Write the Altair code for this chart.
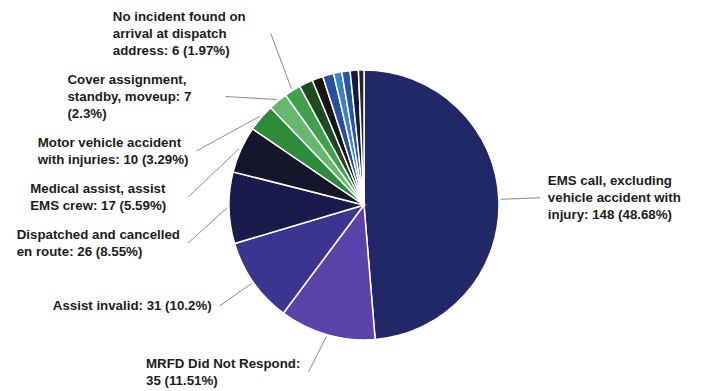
import math
import altair as alt
import pandas as pd

# ---------------- data ----------------
categories = [
    "EMS call, excluding vehicle accident with injury",
    "MRFD Did Not Respond",
    "Assist invalid",
    "Dispatched and cancelled en route",
    "Medical assist, assist EMS crew",
    "Motor vehicle accident with injuries",
    "Cover assignment, standby, moveup",
    "No incident found on arrival at dispatch address",
    "Other 1", "Other 2", "Other 3", "Other 4", "Other 5", "Other 6", "Other 7",
]
counts = [148, 35, 31, 26, 17, 10, 7, 6, 5, 4, 4, 3, 3, 3, 2]
label_templates = [
    "EMS call, excluding\nvehicle accident with\ninjury: {n} ({p}%)",
    "MRFD Did Not Respond:\n{n} ({p}%)",
    "Assist invalid: {n} ({p}%)",
    "Dispatched and cancelled\nen route: {n} ({p}%)",
    "Medical assist, assist\nEMS crew: {n} ({p}%)",
    "Motor vehicle accident\nwith injuries: {n} ({p}%)",
    "Cover assignment,\nstandby, moveup: {n}\n({p}%)",
    "No incident found on\narrival at dispatch\naddress: {n} ({p}%)",
    "", "", "", "", "", "", "",
]
palette = [
    "#212868", "#5a44aa", "#3b3590", "#1b1a4c", "#15152c",
    "#2c8c3a", "#66b86e", "#42a04c", "#1e4a24", "#161616",
    "#23509f", "#3d80cc", "#2753a8", "#141a3a", "#262626",
]

# ---------------- layout constants ----------------
W, H = 706, 391
PAD_L, PAD_T = 22, 19
CX = PAD_L + (W - PAD_L) / 2
CY = PAD_T + (H - PAD_T) / 2
R = 135
R_EDGE = 137
R_CONN = 176
FS = 13.3
LH = 17
GAP = 12
WRAP_MIN = 150
TEXT_GAP = 8

# Arial/Helvetica Bold advance widths (1/1000 em)
CW = {
    'a': 556, 'b': 611, 'c': 556, 'd': 611, 'e': 556, 'f': 333, 'g': 611, 'h': 611,
    'i': 278, 'j': 278, 'k': 556, 'l': 278, 'm': 889, 'n': 611, 'o': 611, 'p': 611,
    'q': 611, 'r': 389, 's': 556, 't': 333, 'u': 611, 'v': 556, 'w': 778, 'x': 556,
    'y': 556, 'z': 500,
    'A': 722, 'B': 722, 'C': 722, 'D': 722, 'E': 667, 'F': 611, 'G': 778, 'H': 722,
    'I': 278, 'J': 556, 'K': 722, 'L': 611, 'M': 833, 'N': 722, 'O': 778, 'P': 667,
    'Q': 778, 'R': 722, 'S': 667, 'T': 611, 'U': 722, 'V': 667, 'W': 944, 'X': 667,
    'Y': 667, 'Z': 611,
    ' ': 278, ',': 278, '.': 278, ':': 333, '(': 333, ')': 333, '%': 889, '-': 333,
}


def text_w(s):
    return sum(CW.get(ch, 556 if ch.isdigit() else 600) for ch in s) * FS / 1000.0


total = sum(counts)
pie_df = pd.DataFrame({"category": categories, "count": counts, "idx": list(range(len(counts)))})

# label geometry derived from the data
items = []
cum = 0
for i, (cat, n, tpl) in enumerate(zip(categories, counts, label_templates)):
    mid = (cum + n / 2) / total * 2 * math.pi
    cum += n
    if not tpl:
        continue
    p = round(100 * n / total, 2)
    text = tpl.format(n=n, p=f"{p:g}")
    lines = text.split("\n")
    items.append({
        "label": text, "mid": mid, "lines": lines,
        "h": len(lines) * LH,
        "ny": CY - R_CONN * math.cos(mid),
        "side": "left" if math.sin(mid) < 0 else "right",
    })


def distribute(group, top, bottom):
    group = sorted(group, key=lambda it: it["ny"])
    blocks = [[it] for it in group]

    def layout(block):
        offs, o = [], 0.0
        for k, it in enumerate(block):
            if k > 0:
                o += block[k - 1]["h"] / 2 + GAP + it["h"] / 2
            offs.append(o)
        start = sum(it["ny"] - off for it, off in zip(block, offs)) / len(block)
        if start - block[0]["h"] / 2 < top:
            start = top + block[0]["h"] / 2
        last_bottom = start + offs[-1] + block[-1]["h"] / 2
        if last_bottom > bottom:
            start -= last_bottom - bottom
        return [start + off for off in offs]

    while True:
        pos = [layout(b) for b in blocks]
        merged = False
        for i in range(len(blocks) - 1):
            b_bottom = pos[i][-1] + blocks[i][-1]["h"] / 2
            n_top = pos[i + 1][0] - blocks[i + 1][0]["h"] / 2
            if b_bottom + GAP > n_top:
                blocks[i] = blocks[i] + blocks.pop(i + 1)
                merged = True
                break
        if not merged:
            break
    for b, ps in zip(blocks, pos):
        for it, y in zip(b, ps):
            it["y"] = y


distribute([it for it in items if it["side"] == "left"], 8, H - 2)
distribute([it for it in items if it["side"] == "right"], 8, H - 2)

rows = []
for it in items:
    y = it["y"]
    dy = y - CY
    circ = math.sqrt(max(R_CONN ** 2 - dy ** 2, 0))
    nat_x = CX + R_CONN * math.sin(it["mid"])
    box = max(text_w(l) for l in it["lines"])
    if len(it["lines"]) > 1:
        box = max(box, WRAP_MIN)
    if it["side"] == "left":
        cxp = min(nat_x, CX - circ)
        tx = cxp - TEXT_GAP - box
    else:
        cxp = max(nat_x, CX + circ)
        tx = cxp + TEXT_GAP
    rows.append({
        "label": it["label"], "tx": tx,
        # first line sits at the anchor; shift so the block is centred
        "ty": y - (len(it["lines"]) - 1) * LH / 2,
        "x1": cxp, "y1": y,
        "x2": CX + R_EDGE * math.sin(it["mid"]),
        "y2": CY - R_EDGE * math.cos(it["mid"]),
    })
lab_df = pd.DataFrame(rows)

xs = alt.Scale(domain=[PAD_L, W], nice=False, zero=False)
ys = alt.Scale(domain=[PAD_T, H], nice=False, zero=False, reverse=True)

pie = alt.Chart(pie_df).mark_arc(outerRadius=R, stroke="white", strokeWidth=1.5).encode(
    theta=alt.Theta("count:Q", stack=True),
    color=alt.Color("category:N", scale=alt.Scale(domain=categories, range=palette), legend=None),
    order=alt.Order("idx:Q", sort="ascending"),
)

connectors = alt.Chart(lab_df).mark_rule(color="#8a8a8a", strokeWidth=1).encode(
    x=alt.X("x1:Q", scale=xs, axis=None),
    y=alt.Y("y1:Q", scale=ys, axis=None),
    x2="x2:Q",
    y2="y2:Q",
)

labels = alt.Chart(lab_df).mark_text(
    align="left", baseline="middle", lineBreak="\n",
    font="Liberation Sans, Arial, sans-serif", fontWeight="bold",
    fontSize=FS, lineHeight=LH, color="#1c1c1c",
).encode(
    x=alt.X("tx:Q", scale=xs, axis=None),
    y=alt.Y("ty:Q", scale=ys, axis=None),
    text="label:N",
)

chart = alt.layer(pie, connectors, labels).properties(
    width=W - PAD_L,
    height=H - PAD_T,
    padding={"left": PAD_L, "top": PAD_T, "right": 0, "bottom": 0},
    autosize="none",
    background="white",
).configure_view(stroke=None)

chart.save("out.html", embed_options={"renderer": "svg", "actions": False})
